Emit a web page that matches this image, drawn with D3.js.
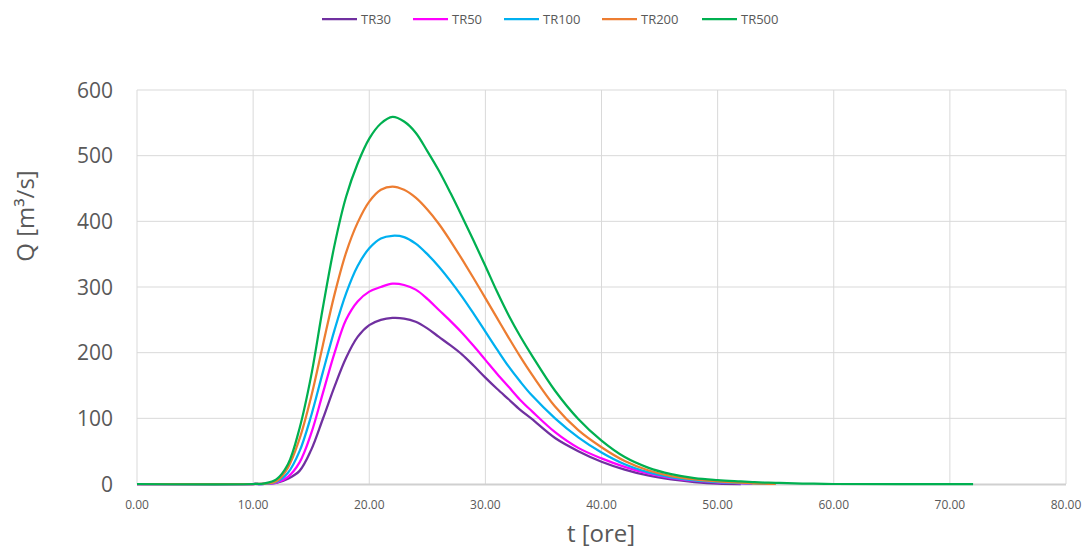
<!DOCTYPE html>
<html>
<head>
    <meta charset="utf-8">
    <title>Idrogrammi TR30-TR500</title>
    <script src="https://d3js.org/d3.v7.min.js"></script>
    <style>
        body { margin: 0; background: white; }
        svg { display: block; background: white; }
        .grid line { stroke: #d9d9d9; stroke-width: 1px; }
        .ytick { font-family: 'Open Sans', sans-serif; font-size: 21px; fill: #595959; }
        .xtick { font-family: 'Open Sans', sans-serif; font-size: 12px; fill: #595959; }
        .atitle { font-family: 'Open Sans', sans-serif; font-size: 24px; fill: #595959; }
        .legend { font-family: 'Open Sans', sans-serif; font-size: 13px; fill: #595959; }
        .series { fill: none; stroke-width: 2.25px; stroke-linejoin: round; }
    </style>
</head>
<body>
    <svg width="1084" height="546"></svg>
    <script>
        // time [ore], common to all series (null = series not drawn there)
        const time = [0, 10, 11, 12, 13, 14, 15, 16, 17, 18, 19, 20, 21, 22, 23, 24, 25, 26, 27, 28, 29, 30,
                      31, 32, 33, 34, 36, 38, 40, 42, 44, 46, 48, 50, 52, 53, 54, 55, 56, 58, 60, 72];

        const tr30  = [0, 0, 0.1, 1.5, 8, 20, 52, 99, 148, 192, 224, 242, 250, 253, 252, 247, 237, 224, 211, 197, 180, 162,
                       145, 129, 113, 99, 70, 50, 34, 22, 13, 7, 3, 0.5, 0, null, null, null, null, null, null, null];
        const tr50  = [0, 0, 0.2, 2, 11, 33, 77, 138, 199, 250, 278, 293, 300, 305, 303, 296, 282, 265, 248, 230, 210, 189,
                       168, 148, 128, 111, 79, 55, 39, 26, 16, 9, 5, 2.5, 1, 0, null, null, null, null, null, null];
        const tr100 = [0, 0, 0.3, 3, 17, 50, 104, 170, 234, 290, 332, 359, 374, 378, 376, 366, 350, 331, 309, 285, 259, 232,
                       205, 179, 156, 135, 100, 71, 48, 30, 18, 10, 5.5, 3, 1.5, 0.8, 0.3, 0, null, null, null, null];
        const tr200 = [0, 0, 0.5, 4, 25, 69, 133, 211, 288, 352, 398, 430, 448, 453, 448, 436, 418, 396, 370, 342, 313, 283,
                       253, 223, 194, 167, 118, 82, 56, 35, 21, 12, 7, 4, 2, 1, 0.5, 0, null, null, null, null];
        const tr500 = [0, 0, 1, 7, 30, 85, 165, 268, 363, 437, 488, 526, 549, 559, 552, 535, 507, 477, 443, 407, 370, 332,
                       293, 257, 225, 196, 142, 99, 66, 41, 25, 15, 9, 6, 4, 3, 2.2, 1.7, 1.3, 0.5, 0, 0];

        const seriesNames  = ["TR30", "TR50", "TR100", "TR200", "TR500"];
        const seriesValues = [tr30, tr50, tr100, tr200, tr500];
        const seriesColors = ["#7030a0", "#ff00ff", "#00b0f0", "#ed7d31", "#00b050"];

        const xTicks = [0, 10, 20, 30, 40, 50, 60, 70, 80];
        const yTicks = [0, 100, 200, 300, 400, 500, 600];

        const svg = d3.select("svg");

        const x = d3.scaleLinear().domain([0, 80]).range([137, 1066]);
        const y = d3.scaleLinear().domain([0, 600]).range([484, 90]);

        // grid
        const grid = svg.append("g").attr("class", "grid");
        grid.selectAll(".h").data(yTicks.filter(v => v > 0)).enter().append("line")
            .attr("x1", x(0)).attr("x2", x(80))
            .attr("y1", d => y(d)).attr("y2", d => y(d));
        grid.selectAll(".v").data(xTicks.filter(v => v > 0)).enter().append("line")
            .attr("x1", d => x(d)).attr("x2", d => x(d))
            .attr("y1", y(0)).attr("y2", y(600));

        // axes lines
        svg.append("line")
            .attr("x1", x(0)).attr("x2", x(0)).attr("y1", y(0)).attr("y2", y(600))
            .attr("stroke", "#d9d9d9").attr("stroke-width", 1);
        svg.append("line")
            .attr("x1", x(0)).attr("x2", x(80)).attr("y1", y(0) + 0.5).attr("y2", y(0) + 0.5)
            .attr("stroke", "#d0d0d0").attr("stroke-width", 2);

        // tick labels
        svg.selectAll(".ytick").data(yTicks).enter().append("text")
            .attr("class", "ytick")
            .attr("x", 113).attr("y", d => y(d))
            .attr("dy", "0.36em")
            .attr("text-anchor", "end")
            .text(d => d);

        svg.selectAll(".xtick").data(xTicks).enter().append("text")
            .attr("class", "xtick")
            .attr("x", d => x(d)).attr("y", 505)
            .attr("dy", "0.36em")
            .attr("text-anchor", "middle")
            .text(d3.format(".2f"));

        // axis titles
        svg.append("text")
            .attr("class", "atitle")
            .attr("transform", "translate(34,216) rotate(-90)")
            .attr("text-anchor", "middle")
            .text("Q [m³/s]");

        svg.append("text")
            .attr("class", "atitle")
            .attr("x", 601).attr("y", 542)
            .attr("text-anchor", "middle")
            .text("t [ore]");

        // series
        const line = d3.line()
            .defined(d => d[1] !== null)
            .x(d => x(d[0]))
            .y(d => y(Math.max(0, d[1])))
            .curve(d3.curveCatmullRom.alpha(0.5));

        seriesValues.forEach((vals, i) => {
            svg.append("path")
                .attr("class", "series")
                .attr("stroke", seriesColors[i])
                .attr("d", line(time.map((t, k) => [t, vals[k]])));
        });

        // legend
        const legendX = [322, 413, 504, 602, 702];
        const legend = svg.append("g");
        seriesNames.forEach((name, i) => {
            legend.append("line")
                .attr("x1", legendX[i]).attr("x2", legendX[i] + 35)
                .attr("y1", 19).attr("y2", 19)
                .attr("stroke", seriesColors[i]).attr("stroke-width", 2.25);
            legend.append("text")
                .attr("class", "legend")
                .attr("x", legendX[i] + 39).attr("y", 19)
                .attr("dy", "0.36em")
                .text(name);
        });
    </script>
</body>
</html>
